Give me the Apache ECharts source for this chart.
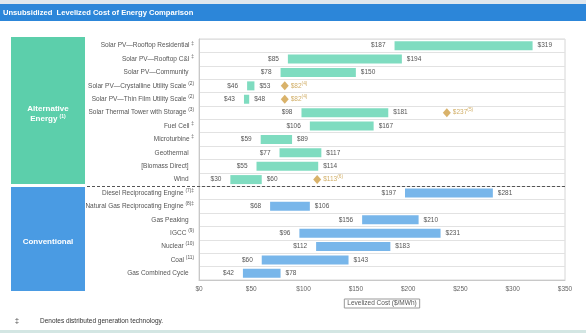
<!DOCTYPE html>
<html>
<head>
<meta charset="utf-8">
<script src="https://cdn.jsdelivr.net/npm/echarts@6/dist/echarts.min.js"></script>
<style>
html,body{margin:0;padding:0;background:#fff;}
#c{width:586px;height:336px;}
</style>
</head>
<body>
<div id="c"></div>
<script>
// ---- data ----
var altCategories = [
  'Solar PV\u2014Rooftop Residential',
  'Solar PV\u2014Rooftop C&I',
  'Solar PV\u2014Community',
  'Solar PV\u2014Crystalline Utility Scale',
  'Solar PV\u2014Thin Film Utility Scale',
  'Solar Thermal Tower with Storage',
  'Fuel Cell',
  'Microturbine',
  'Geothermal',
  '[Biomass Direct]',
  'Wind'
];
var convCategories = [
  'Diesel Reciprocating Engine',
  'Natural Gas Reciprocating Engine',
  'Gas Peaking',
  'IGCC',
  'Nuclear',
  'Coal',
  'Gas Combined Cycle'
];
var footnoteMarks = ['\u2021','\u2021','','(2)','(2)','(3)','\u2021','\u2021','','','',
                     '(7)\u2021','(8)\u2021','','(9)','(10)','(11)',''];
var lowValues  = [187, 85, 78, 46, 43, 98, 106, 59, 77, 55, 30, 197, 68, 156, 96, 112, 60, 42];
var highValues = [319,194,150, 53, 48,181, 167, 89,117,114, 60, 281,106, 210,231, 183,143, 78];
var diamondValues = [null,null,null,82,82,237,null,null,null,null,113, null,null,null,null,null,null,null];
var diamondNotes  = ['','','','(4)','(4)','(5)','','','','','(6)','','','','','','',''];
var xTicks = [0, 50, 100, 150, 200, 250, 300, 350];

var categories = altCategories.concat(convCategories);
var altColor = '#7fdcc0', convColor = '#78b6ea';
var FONT = '"Liberation Sans", Arial, sans-serif';

var rangeData = categories.map(function(c, i){
  return {
    value: highValues[i] - lowValues[i],
    itemStyle: { color: i < altCategories.length ? altColor : convColor }
  };
});
var diamondData = [];
diamondValues.forEach(function(v, i){
  if (v != null) diamondData.push({ value: [v, i], note: diamondNotes[i] });
});

var chart = echarts.init(document.getElementById('c'));
var graphics = [
  { type:'rect', shape:{x:0,y:0,width:586,height:4}, style:{fill:'#dfe7ee'}, silent:true },
  { type:'rect', shape:{x:0,y:4,width:586,height:17}, style:{fill:'#2c86d9'}, silent:true },
  { type:'text', x:3, y:12.5, style:{ text:'Unsubsidized  Levelized Cost of Energy Comparison', fill:'#fff',
      font:'bold 7.6px ' + FONT, verticalAlign:'middle' }, silent:true },
  { type:'rect', shape:{x:11,y:37,width:74,height:147}, style:{fill:'#5ccfab'}, silent:true },
  { type:'text', x:48, y:114, style:{ text:'{a|Alternative}\n{a|Energy }{s|(1)}', align:'center', verticalAlign:'middle',
      rich:{ a:{ fill:'#fff', font:'bold 8px ' + FONT, lineHeight:10 }, s:{ fill:'#fff', font:'bold 5px ' + FONT, padding:[0,0,5,0] } } }, silent:true },
  { type:'rect', shape:{x:11,y:187,width:74,height:104}, style:{fill:'#4a9be3'}, silent:true },
  { type:'text', x:48, y:242, style:{ text:'Conventional', fill:'#fff', font:'bold 8px ' + FONT, align:'center', verticalAlign:'middle' }, silent:true },
  { type:'text', x:15, y:321, style:{ text:'\u2021', fill:'#333', font:'7px ' + FONT, verticalAlign:'middle' }, silent:true },
  { type:'text', x:40, y:321, style:{ text:'Denotes distributed generation technology.', fill:'#333', font:'6.5px ' + FONT, verticalAlign:'middle' }, silent:true },
  { type:'rect', shape:{x:0,y:330,width:586,height:3}, style:{fill:'#d3e6e3'}, silent:true }
];

var option = {
  animation: false,
  backgroundColor: '#fff',
  textStyle: { fontFamily: FONT },
  grid: { left: 199, right: 21, top: 39, bottom: 56, show: true, borderColor: '#d6d6d6', borderWidth: 1 },
  xAxis: {
    type: 'value', min: 0, max: 350, interval: 50,
    axisLine: { show: true, lineStyle: { color: '#c8c8c8' } },
    axisTick: { show: false },
    splitLine: { show: false },
    axisLabel: { fontSize: 6.5, color: '#666', margin: 6, fontFamily: FONT,
      formatter: function(v){ return xTicks.indexOf(v) >= 0 ? '$' + v : ''; } },
    name: 'Levelized Cost ($/MWh)', nameLocation: 'middle', nameGap: 19,
    nameTextStyle: { fontSize: 6.5, color: '#555', borderColor: '#999', borderWidth: 1, padding: [1, 3], fontFamily: FONT }
  },
  yAxis: {
    type: 'category', inverse: true, data: categories,
    axisLine: { show: true, lineStyle: { color: '#c8c8c8' } },
    axisTick: { show: false },
    splitLine: { show: true, lineStyle: { color: '#e2e2e2' } },
    axisLabel: {
      margin: 5, fontSize: 6.5, color: '#555', fontFamily: FONT,
      formatter: function(v, i){
        var m = footnoteMarks[i];
        return m ? v + ' {s|' + m + '}' : v + '   ';
      },
      rich: { s: { fontSize: 4.8, color: '#555', padding: [0, 0, 5, 0], fontFamily: FONT } }
    }
  },
  series: [
    {
      type: 'bar', stack: 'r', data: lowValues, barWidth: 9,
      itemStyle: { color: 'rgba(0,0,0,0)' },
      label: { show: true, position: 'insideRight', distance: 9, fontSize: 6.5, color: '#555', fontFamily: FONT,
        formatter: function(p){ return '$' + p.value; } },
      emphasis: { disabled: true }, silent: true
    },
    {
      type: 'bar', stack: 'r', data: rangeData, barWidth: 9,
      label: { show: true, position: 'right', distance: 5, fontSize: 6.5, color: '#555', fontFamily: FONT,
        formatter: function(p){ return '$' + highValues[p.dataIndex]; } },
      emphasis: { disabled: true }, silent: true
    },
    {
      type: 'scatter', data: diamondData, symbol: 'diamond', symbolSize: [8, 9],
      itemStyle: { color: '#cf9f45' },
      label: { show: true, position: 'right', distance: 2, fontSize: 6.5, color: '#c59a40', fontFamily: FONT,
        formatter: function(p){ return '$' + p.value[0] + '{s|' + p.data.note + '}'; },
        rich: { s: { fontSize: 4.8, color: '#c59a40', padding: [0, 0, 5, 0], fontFamily: FONT } } },
      emphasis: { disabled: true }, silent: true
    }
  ],
  graphic: graphics
};
chart.setOption(option);

// dashed divider between the alternative and conventional groups
var yA = chart.convertToPixel({ yAxisIndex: 0 }, altCategories.length - 1);
var yB = chart.convertToPixel({ yAxisIndex: 0 }, altCategories.length);
var yMid = Math.round((yA + yB) / 2) + 0.5;
var xRight = chart.convertToPixel({ xAxisIndex: 0 }, 350);
graphics.push({ type:'line', shape:{ x1: 87, y1: yMid, x2: xRight, y2: yMid },
  style:{ stroke:'#555', lineWidth: 1.2, lineDash:[3, 2] }, silent:true, z: 10 });
chart.setOption({ graphic: graphics });
</script>
</body>
</html>
